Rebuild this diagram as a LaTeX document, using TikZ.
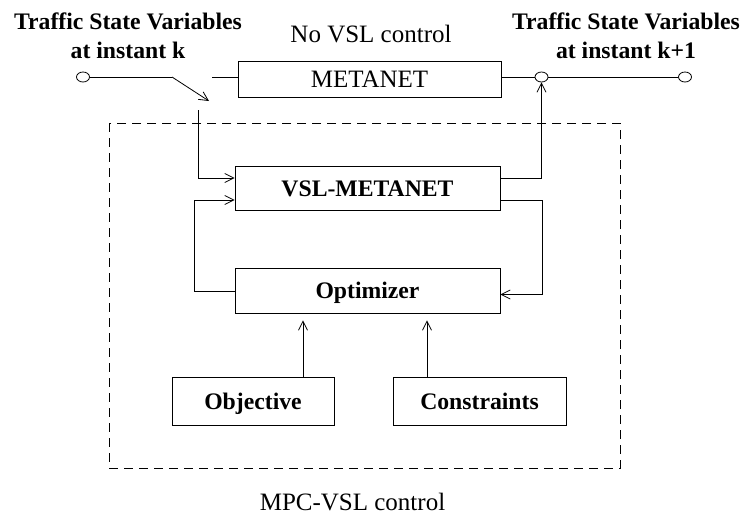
\documentclass[tikz,border=0pt]{standalone}
\usepackage{fontspec}
\setmainfont{Liberation Serif}
\usetikzlibrary{arrows.meta,shapes.geometric}

\tikzset{
  blk/.style={draw,line width=.8pt,inner sep=0pt,text height=16.5pt,text depth=0pt,font=\fontsize{23.7}{29}\selectfont\bfseries},
  term/.style={draw,ellipse,line width=.8pt,inner sep=0pt,minimum width=13pt,minimum height=10pt},
  txt/.style={inner sep=0pt,font=\fontsize{25}{30}\selectfont},
  btxt/.style={inner sep=0pt,align=center,font=\fontsize{23.7}{29}\selectfont\bfseries},
}

\begin{document}
\begin{tikzpicture}[x=1pt,y=-1pt,line width=.8pt,>={Straight Barb[length=9pt,width=9pt]}]
      \useasboundingbox (0,0) rectangle (743,515);

      % MPC loop frame
      \draw[dash pattern=on 9pt off 6pt] (109,123) rectangle (620,468);

      \begin{scope}[every node/.style={blk}]
        \node (metanet) at (369.5,79) [minimum width=263pt,minimum height=36pt,font=\fontsize{25}{30}\selectfont] {METANET};
        \node (vsl)  at (367.5,188) [minimum width=265pt,minimum height=44pt] {VSL-METANET};
        \node (opt)  at (367.5,290.5) [minimum width=265pt,minimum height=45pt] {Optimizer};
        \node (obj)  at (253,401) [minimum width=162pt,minimum height=48pt] {Objective};
        \node (cons) at (479.5,401) [minimum width=173pt,minimum height=48pt] {Constraints};
      \end{scope}

      \node[term] (in)  at (83,77) {};
      \node[term] (sum) at (541.5,77) {};
      \node[term] (out) at (685,77) {};

      % switch contacts
      \coordinate (sw)   at (172,77);
      \coordinate (swto) at (209,101);
      \coordinate (swa)  at (212,77);
      \coordinate (swb)  at (198,110);

      \node[btxt] (lin)  at (128,35.5) {Traffic State Variables\\at instant k};
      \node[btxt] (lout) at (626,35.5) {Traffic State Variables\\at instant k+1};
      \node[txt,anchor=base] (nvsl) at (371,42) {No VSL control};
      \node[txt,anchor=base] (mpc)  at (352.5,510) {MPC-VSL control};

      \draw (in) -- (sw);
      \draw[->] (sw) -- (swto);
      \draw (swa) -- (swa -| metanet.west);
      \draw (sum -| metanet.east) -- (sum) -- (out);

      \draw[->] (swb) |- ([yshift=10pt]vsl.west);
      \draw[->] ([yshift=-1pt]opt.west) -- ++(-40,0) |- ([yshift=-12pt]vsl.west);
      \draw[->] ([yshift=10pt]vsl.east) -| (sum);
      \draw[->] ([yshift=-12pt]vsl.east) -- ++(42,0) |- ([yshift=-4pt]opt.east);

      \draw[->,shorten >=7pt] ([xshift=50pt]obj.north) -- ([xshift=50pt]obj.north |- opt.south);
      \draw[->,shorten >=7pt] ([xshift=-52.5pt]cons.north) -- ([xshift=-52.5pt]cons.north |- opt.south);

\end{tikzpicture}
\end{document}
